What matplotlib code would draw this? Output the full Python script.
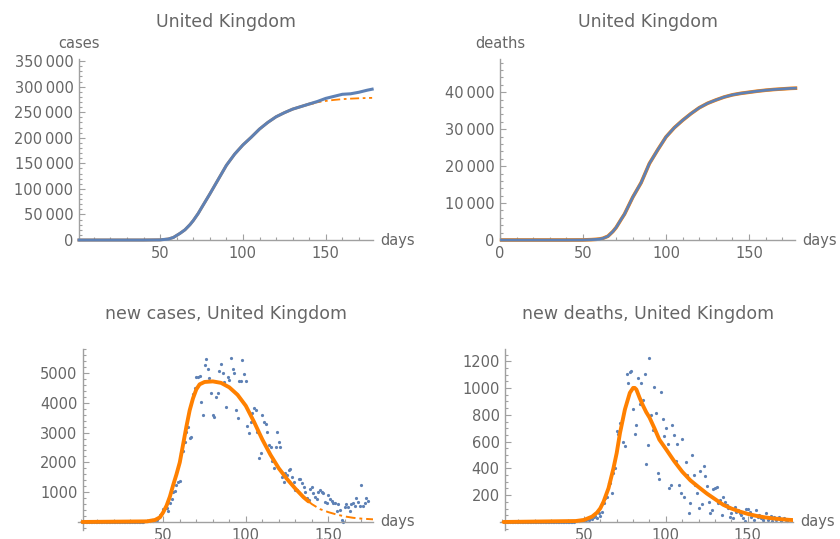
import numpy as np
import matplotlib
matplotlib.use("Agg")
import matplotlib.pyplot as plt
from matplotlib.ticker import MultipleLocator, FuncFormatter, FixedLocator

# ---- data (day index = days since start) ----
cum_days = [1, 40, 50, 55, 58, 60, 62, 65, 68, 70, 73, 75, 80, 85, 90, 95, 100, 105,
            110, 115, 120, 125, 130, 135, 140, 145, 150, 155, 160, 165, 170, 175, 178]
cum_cases = [0, 0, 300, 2000, 5000, 9000, 13000, 20000, 30000, 38000, 52000, 63000,
             90000, 118000, 146000, 168000, 186000, 201000, 217000, 230000, 241000,
             249000, 256000, 261000, 266000, 271000, 277000, 281000, 285000, 286000,
             289000, 293000, 295000]
fit_cases_days = [1, 40, 50, 55, 58, 60, 62, 65, 68, 70, 73, 75, 80, 85, 90, 95, 100, 105,
                  110, 115, 120, 125, 130, 135, 140, 142, 145, 150, 155, 160, 165, 170, 175, 178]
fit_cases = [0, 0, 300, 2000, 5000, 9000, 13000, 20000, 30000, 38000, 52000, 63000,
             90000, 118000, 146000, 168000, 186000, 201000, 217000, 230000, 241000,
             249000, 256000, 261000, 266000, 267500, 269500, 272000, 274000, 275500,
             276500, 277200, 277800, 278000]

cum_deaths = [0, 0, 20, 100, 180, 270, 450, 1000, 2300, 3400, 5600, 7000, 11600,
              15500, 20700, 24400, 27900, 30400, 32400, 34200, 35800, 37000, 37900,
              38700, 39300, 39700, 40000, 40300, 40550, 40750, 40900, 41050, 41100]
fit_deaths = [0, 0, 20, 100, 190, 280, 460, 1020, 2300, 3400, 5600, 7000, 11600,
              15500, 20700, 24400, 27900, 30400, 32400, 34200, 35800, 37000, 37900,
              38700, 39300, 39700, 40000, 40300, 40550, 40750, 40900, 41050, 41100]

new_cases = [0, 0, 0, 0, 0, 0, 0, 0, 2, 0,
             0, 0, 0, 0, 0, 0, 0, 0, 0, 0,
             0, 0, 1, 0, 0, 0, 0, 0, 0, 0,
             4, 0, 3, 0, 4, 13, 3, 11, 34, 30,
             48, 43, 67, 48, 61, 74, 130, 235, 290, 430,
             460, 480, 380, 640, 770, 1017, 1050, 1240, 1350, 1375,
             2330, 2370, 2700, 3010, 3200, 2830, 2850, 4285, 4510, 4880,
             4870, 4900, 4017, 3590, 5270, 5460, 5125, 4850, 4320, 3580,
             3510, 4190, 4320, 5080, 5290, 4990, 4710, 3850, 4860, 4770,
             5500, 5140, 4990, 3760, 3480, 4720, 4720, 5440, 4970, 4730,
             3220, 2980, 3370, 3650, 3820, 3760, 3030, 2140, 2300, 3590,
             3370, 3290, 3030, 2580, 2530, 2060, 1800, 2530, 3030, 2700,
             2530, 1520, 1350, 1630, 1580, 1750, 1780, 1520, 1350, 1075,
             1075, 1430, 1450, 1300, 1190, 1020, 795, 740, 1100, 1190,
             960, 850, 760, 1020, 1075, 1000, 985, 680, 630, 905,
             760, 700, 630, 630, 380, 610, 400, 67, 10, 515,
             600, 490, 380, 600, 630, 540, 795, 680, 520, 1240,
             520, 630, 795, 700]
fit_new_days = [1, 40, 45, 48, 50, 52, 54, 56, 58, 60, 62, 64, 66, 68, 70, 72, 75, 80,
                85, 90, 95, 100, 105, 110, 115, 120, 125, 130, 135, 138,
                140, 145, 150, 155, 160, 165, 170, 175, 178]
fit_new_cases = [0, 20, 67, 157, 330, 550, 850, 1240, 1600, 2000, 2600, 3200, 3750,
                 4150, 4450, 4620, 4700, 4720, 4670, 4520, 4270, 3900, 3360, 2770,
                 2250, 1800, 1440, 1120, 830, 690,
                 600, 430, 330, 250, 185, 140, 112, 95, 85]

new_deaths = [0] * 44 + [
    5, 10, 8, 12, 15, 12, 18, 20, 14, 27,
    22, 35, 45, 30, 65, 48, 77, 145, 177, 190,
    290, 290, 215, 365, 400, 677, 657, 740, 760, 600,
    570, 1108, 1034, 1120, 1127, 845, 657, 727, 1076, 884,
    1040, 914, 1108, 432, 572, 1226, 802, 684, 1009, 814,
    365, 320, 969, 769, 639, 702, 584, 252, 277, 727,
    652, 452, 584, 277, 215, 619, 185, 445, 352, 70,
    145, 502, 352, 277, 215, 102, 377, 135, 420, 345,
    265, 152, 65, 90, 245, 252, 260, 140, 165, 52,
    190, 152, 127, 102, 35, 65, 27, 115, 77, 90,
    65, 52, 27, 10, 95, 95, 77, 40, 52, 15,
    90, 40, 52, 27, 15, 40, 65, 15, 27, 45,
    10, 40, 15, 27, 40, 10, 20, 27, 15, 10]
fit_deaths_days = [1, 45, 50, 55, 58, 60, 62, 65, 68, 70, 72, 75, 78, 80, 81, 82, 84,
                   86, 88, 90, 93, 96, 100, 105, 110, 115, 120, 125, 130, 135, 140,
                   145, 150, 155, 160, 165, 170, 175, 178]
fit_new_deaths = [0, 7, 15, 40, 70, 102, 152, 252, 400, 515, 664, 840, 964, 1001, 1001,
                  989, 926, 870, 820, 780, 700, 615, 545, 455, 375, 310, 260, 212, 170,
                  128, 100, 78, 60, 46, 35, 27, 21, 16, 14]

BLUE = "#5E81B5"
ORANGE = "#FF8000"
GRAY = "#666666"
AXC = "#a0a0a0"

plt.rcParams["font.family"] = "DejaVu Sans"

fig = plt.figure(figsize=(8.4, 5.39), dpi=100)
ax1 = fig.add_axes([0.094, 0.5547, 0.350, 0.3358])
ax2 = fig.add_axes([0.5952, 0.5547, 0.3518, 0.3358])
ax3 = fig.add_axes([0.0932, 0.0167, 0.3507, 0.3354])
ax4 = fig.add_axes([0.5952, 0.0167, 0.3488, 0.3354])


def thousands(v, pos):
    v = int(round(v))
    if v >= 10000:
        return f"{v // 1000}\u2009{v % 1000:03d}"
    return str(v)


def style(ax):
    for s in ("top", "right"):
        ax.spines[s].set_visible(False)
    for s in ("left", "bottom"):
        ax.spines[s].set_color(AXC)
        ax.spines[s].set_linewidth(1.0)
    ax.tick_params(which="both", direction="in", colors=AXC, labelcolor=GRAY,
                   labelsize=10.5, width=0.8, pad=4)
    ax.tick_params(which="major", length=4)
    ax.tick_params(which="minor", length=2.2)
    ax.xaxis.set_minor_locator(MultipleLocator(10))


def lbl(ax, xlabel, ylabel=None):
    ax.annotate(xlabel, xy=(1, 0), xycoords=ax.get_yaxis_transform(),
                xytext=(5, 0), textcoords="offset points",
                ha="left", va="center", color=GRAY, fontsize=10.5)
    if ylabel:
        ax.annotate(ylabel, xy=(0, 1), xycoords="axes fraction",
                    xytext=(0, 11), textcoords="offset points",
                    ha="center", va="center", color=GRAY, fontsize=10.5)


# --- cumulative cases
fd = np.array(fit_cases_days)
fc = np.array(fit_cases)
m = fd <= 142
ax1.plot(fd[m], fc[m], color=ORANGE, lw=2.0, clip_on=False, zorder=2)
ax1.plot(fd[~m | (fd == 142)], fc[~m | (fd == 142)], color=ORANGE, lw=1.3,
         ls=(0, (5, 2, 1.5, 2)), clip_on=False, zorder=2)
ax1.plot(cum_days, cum_cases, color=BLUE, lw=2.2, clip_on=False, zorder=3)
ax1.set_xlim(1, 178.5)
ax1.set_ylim(0, 354000)
ax1.xaxis.set_major_locator(FixedLocator([50, 100, 150]))
ax1.yaxis.set_major_locator(MultipleLocator(50000))
ax1.yaxis.set_minor_locator(MultipleLocator(10000))
ax1.yaxis.set_major_formatter(FuncFormatter(thousands))
style(ax1)
lbl(ax1, "days", "cases")

# --- cumulative deaths
ax2.plot(cum_days, fit_deaths, color=ORANGE, lw=2.6, clip_on=False, zorder=2)
ax2.plot(cum_days, cum_deaths, color=BLUE, lw=2.0, clip_on=False, zorder=3)
ax2.set_xlim(0, 178)
ax2.set_ylim(0, 49000)
ax2.xaxis.set_major_locator(FixedLocator([0, 50, 100, 150]))
ax2.yaxis.set_major_locator(MultipleLocator(10000))
ax2.yaxis.set_minor_locator(MultipleLocator(2000))
ax2.yaxis.set_major_formatter(FuncFormatter(thousands))
style(ax2)
lbl(ax2, "days", "deaths")

# --- new cases
days_nc = np.arange(1, len(new_cases) + 1)
ax3.plot(days_nc, new_cases, "o", color=BLUE, ms=2.3, mew=0, zorder=2)
fnd = np.array(fit_new_days)
fnc = np.array(fit_new_cases)
m = fnd <= 138
ax3.plot(fnd[m], fnc[m], color=ORANGE, lw=2.8, zorder=3, solid_capstyle="round")
m2 = fnd >= 138
ax3.plot(fnd[m2], fnc[m2], color=ORANGE, lw=1.4, ls=(0, (5, 2, 1.5, 2)), zorder=3)
ax3.set_xlim(-1.5, 177)
ax3.set_ylim(-270, 5800)
ax3.spines["left"].set_position(("data", 1.5))
ax3.spines["bottom"].set_position(("data", 0))
ax3.xaxis.set_major_locator(FixedLocator([50, 100, 150]))
ax3.yaxis.set_major_locator(FixedLocator([1000, 2000, 3000, 4000, 5000]))
ax3.yaxis.set_minor_locator(MultipleLocator(200))
style(ax3)
lbl(ax3, "days")

# --- new deaths
days_nd = np.arange(1, len(new_deaths) + 1)
ax4.plot(days_nd, new_deaths, "o", color=BLUE, ms=2.3, mew=0, zorder=2)
ax4.plot(fit_deaths_days, fit_new_deaths, color=ORANGE, lw=2.8, zorder=3,
         solid_capstyle="round")
ax4.set_xlim(-1.2, 177.5)
ax4.set_ylim(-60, 1290)
ax4.spines["left"].set_position(("data", 2))
ax4.spines["bottom"].set_position(("data", 0))
ax4.xaxis.set_major_locator(FixedLocator([50, 100, 150]))
ax4.yaxis.set_major_locator(FixedLocator([200, 400, 600, 800, 1000, 1200]))
ax4.yaxis.set_minor_locator(MultipleLocator(50))
style(ax4)
lbl(ax4, "days")

# titles
tkw = dict(ha="center", va="center", color=GRAY, fontsize=12.5)
fig.text(0.269, 0.959, "United Kingdom", **tkw)
fig.text(0.771, 0.959, "United Kingdom", **tkw)
fig.text(0.269, 0.4174, "new cases, United Kingdom", **tkw)
fig.text(0.771, 0.4174, "new deaths, United Kingdom", **tkw)

fig.savefig("out.png", dpi=100)
